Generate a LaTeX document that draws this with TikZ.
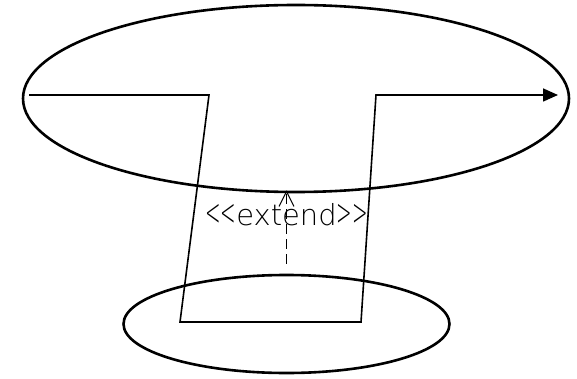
\documentclass[tikz,border=0pt]{standalone}
\usepackage{fontspec}
\newfontfamily\umlfont{DejaVu Sans ExtraLight}
\usetikzlibrary{arrows.meta, positioning, shapes.geometric}
\newcommand{\guil}[1]{\scalebox{0.64}[1.3]{#1}}

\begin{document}
\begin{tikzpicture}[x=1pt, y=-1pt,
  usecase/.style={ellipse, draw=black, line width=2.6pt, inner sep=0pt},
  flowline/.style={-{Triangle[length=15pt, width=13pt]}, line width=1.6pt, line join=miter},
  extendarrow/.style={-{Straight Barb[length=15pt, width=15pt, line width=1pt]},
                      line width=1pt, dash pattern=on 10pt off 5pt},
  stereo/.style={font=\umlfont\fontsize{29}{31}\selectfont, inner sep=0pt, anchor=base}
]
\useasboundingbox (0,0) rectangle (577,379);

% use cases
\node[usecase, minimum width=546pt, minimum height=187pt] (base) at (296,98.5) {};
\node[usecase, minimum width=326pt, minimum height=98pt] (ext) at (286.5,324) {};

% flow through both use cases
\coordinate (flowin) at (29,95);
\coordinate (flowout) at (558,95);
\draw[flowline] (flowin) -- (209,95) -- (180,322) -- (361,322) -- (376,95) -- (flowout);

% extend relation
\draw[extendarrow, shorten <=10pt, shorten >=-3pt] (ext.north) -- (ext.north |- base.south);
\node[stereo] (extlabel) at (286.5,225) {\guil{<}\guil{<}extend\guil{>}\guil{>}};

\end{tikzpicture}
\end{document}
